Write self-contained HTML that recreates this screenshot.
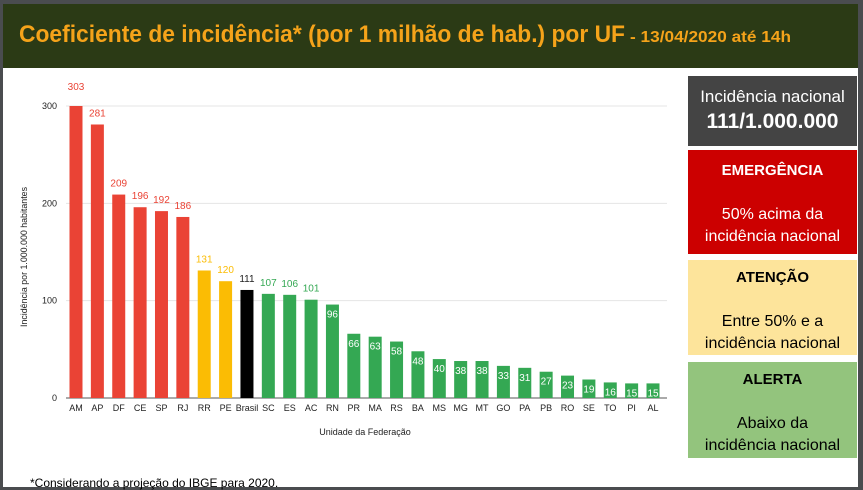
<!DOCTYPE html>
<html><head><meta charset="utf-8"><style>
body{margin:0;width:863px;height:487px;overflow:hidden;background:#4a4c4f;font-family:"Liberation Sans",sans-serif;position:relative}
#page{position:absolute;left:3px;top:4px;width:855px;height:483px;background:#fff}
#hdr{position:absolute;left:0;top:0;width:855px;height:64px;background:#2b3a15}
.box{position:absolute;left:685px;width:169px;text-align:center;font-size:16px;line-height:22px}
.box b{display:block}
#foot{position:absolute;left:27px;top:472px;font-size:12px;color:#000}
</style></head><body>
<div id="page">
<div id="hdr">
<svg width="855" height="64" style="position:absolute;left:0;top:0">
<text x="16" y="38" font-family="Liberation Sans" font-weight="bold" font-size="24" fill="#f5a31a" textLength="606" lengthAdjust="spacingAndGlyphs">Coeficiente de incidência* (por 1 milhão de hab.) por UF</text>
<text x="627" y="38" font-family="Liberation Sans" font-weight="bold" font-size="16" fill="#f5a31a" textLength="161" lengthAdjust="spacingAndGlyphs">- 13/04/2020 até 14h</text>
</svg></div>
<div class="box" style="top:72px;height:70px;background:#444;color:#fff;padding-top:10px;box-sizing:border-box;font-size:17px">Incidência nacional<b style="font-size:21px;line-height:28px">111/1.000.000</b></div>
<div class="box" style="top:146px;height:104px;background:#c00;color:#fff;padding-top:10px;box-sizing:border-box"><b style="font-size:15px">EMERGÊNCIA</b><br>50% acima da<br>incidência nacional</div>
<div class="box" style="top:256px;height:95px;background:#fde49b;color:#000;padding-top:7px;box-sizing:border-box"><b style="font-size:15px">ATENÇÃO</b><br>Entre 50% e a<br>incidência nacional</div>
<div class="box" style="top:358px;height:96px;background:#93c47d;color:#000;padding-top:7px;box-sizing:border-box"><b style="font-size:15px">ALERTA</b><br>Abaixo da<br>incidência nacional</div>
<div id="foot">*Considerando a projeção do IBGE para 2020.</div>
</div>
<svg id="chart" width="863" height="487" style="position:absolute;left:0;top:0;font-family:'Liberation Sans',sans-serif"></svg>
<script>
const categories=["AM","AP","DF","CE","SP","RJ","RR","PE","Brasil","SC","ES","AC","RN","PR","MA","RS","BA","MS","MG","MT","GO","PA","PB","RO","SE","TO","PI","AL"];
const values=[303,281,209,196,192,186,131,120,111,107,106,101,96,66,63,58,48,40,38,38,33,31,27,23,19,16,15,15];
const yTicks=[0,100,200,300];
const svg=document.getElementById('chart');const NS='http://www.w3.org/2000/svg';
const x0=76,bw=13;
function xs(i){return x0+i*((653-76)/(categories.length-1));}
function ys(v){return 398-Math.min(v,300)*(292/300);}
function mk(t,a,txt){const e=document.createElementNS(NS,t);for(const k in a)e.setAttribute(k,a[k]);if(txt!==undefined)e.textContent=txt;svg.appendChild(e);return e;}
yTicks.forEach(t=>{
 const l=mk('line',{x1:66,x2:667,y1:ys(t),y2:ys(t),stroke:t?'#e4e4e4':'#555','stroke-width':1});
 
 
 const tx=mk('text',{x:57,y:ys(t)+3,'text-anchor':'end','font-size':9,fill:'#222'},t);
 
 
});
function color(c,v){if(c==='Brasil')return '#000';if(v>=111*1.5)return '#ea4335';if(v>111)return '#fbbc04';return '#34a853';}
categories.forEach((c,i)=>{
 const v=values[i],cx=xs(i),col=color(c,v);
 const r=mk('rect',{x:cx-bw/2,y:ys(v),width:bw,height:398-ys(v),fill:col});
 
 
 let lbl;
 if(v>100){const lc=c==='Brasil'?'#222':col;lbl=mk('text',{x:cx,y:ys(v)-(v>300?16:8),'text-anchor':'middle','font-size':10,fill:lc},v);}
 else lbl=mk('text',{x:cx,y:ys(v)+13,'text-anchor':'middle','font-size':10,fill:'#fff'},v);
 
 
 const xl=mk('text',{x:cx,y:411,'text-anchor':'middle','font-size':9,fill:'#222'},c);
 
 
});
const xt=mk('text',{x:365,y:435,'text-anchor':'middle','font-size':9,fill:'#222'},'Unidade da Federação');


const yt=mk('text',{x:0,y:0,'text-anchor':'middle','font-size':9,fill:'#222',transform:'translate(27,257) rotate(-90)',textLength:140,lengthAdjust:'spacingAndGlyphs'},'Incidência por 1.000.000 habitantes');


</script>
</body></html>
